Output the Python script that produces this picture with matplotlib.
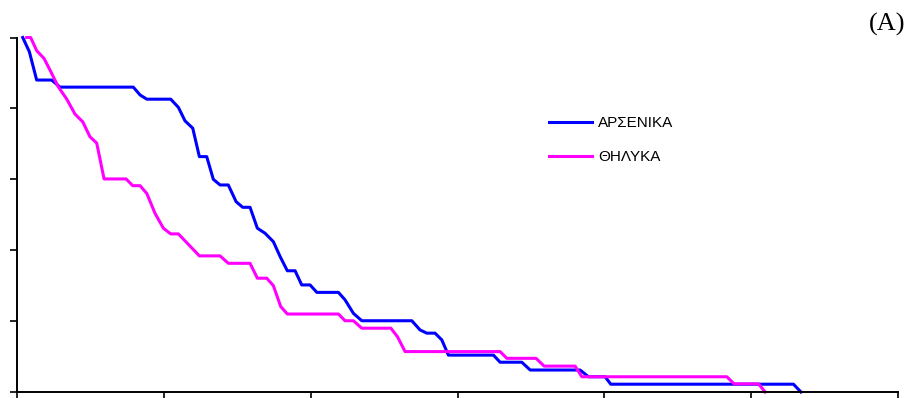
import matplotlib
matplotlib.use("Agg")
import matplotlib.pyplot as plt

# Survival-type curves (x in arbitrary time units, 0-60; y as proportion 0-1)
male_label = "ΑΡΣΕΝΙΚΑ"
female_label = "ΘΗΛΥΚΑ"

male_x = [0.39, 0.84, 1.34, 2.36, 2.93, 7.92, 8.38, 8.84, 10.47, 10.99, 11.44, 11.97,
          12.42, 12.92, 13.37, 13.83, 14.39, 14.92, 15.37, 15.87, 16.37, 16.89, 17.46,
          17.92, 18.41, 18.94, 19.39, 19.96, 20.42, 21.89, 22.34, 22.91, 23.48, 26.89,
          27.45, 27.91, 28.47, 28.93, 29.38, 32.45, 32.90, 34.38, 34.95, 38.35, 38.92,
          40.05, 40.44, 52.88, 53.39]
male_y = [1.000, 0.960, 0.880, 0.880, 0.860, 0.860, 0.838, 0.826, 0.826, 0.803, 0.765,
          0.744, 0.664, 0.664, 0.600, 0.584, 0.584, 0.537, 0.521, 0.521, 0.462, 0.448,
          0.424, 0.382, 0.342, 0.342, 0.302, 0.302, 0.281, 0.281, 0.260, 0.222, 0.201,
          0.201, 0.175, 0.166, 0.166, 0.147, 0.104, 0.104, 0.084, 0.084, 0.062, 0.062,
          0.043, 0.043, 0.022, 0.022, 0.0]

female_x = [0.66, 0.93, 1.34, 1.84, 2.25, 2.81, 3.39, 3.95, 4.48, 4.97, 5.43, 5.93, 7.43,
            7.88, 8.38, 8.84, 9.40, 9.97, 10.47, 10.99, 12.42, 13.83, 14.39, 15.87,
            16.37, 17.01, 17.46, 17.96, 18.41, 21.89, 22.34, 22.91, 23.48, 25.46, 25.91,
            26.43, 32.90, 33.36, 35.35, 35.90, 38.01, 38.47, 48.34, 48.84, 50.50, 50.95]
female_y = [1.000, 1.000, 0.963, 0.941, 0.908, 0.861, 0.826, 0.784, 0.762, 0.720, 0.702,
            0.601, 0.601, 0.582, 0.582, 0.560, 0.504, 0.462, 0.446, 0.446, 0.384, 0.384,
            0.363, 0.363, 0.321, 0.321, 0.300, 0.241, 0.220, 0.220, 0.201, 0.201, 0.180,
            0.180, 0.156, 0.114, 0.114, 0.095, 0.095, 0.073, 0.073, 0.043, 0.043, 0.023,
            0.023, 0.0]

x_ticks = [0, 10, 20, 30, 40, 50, 60]
y_ticks = [0.0, 0.2, 0.4, 0.6, 0.8, 1.0]

fig = plt.figure(figsize=(9.14, 3.98), dpi=100)
W, H = 914, 398
ax = fig.add_axes([17 / W, (H - 392) / H, (898 - 17) / W, (392 - 37.5) / H])

ax.plot(male_x, male_y, color="#0000FF", lw=2.2, label=male_label, clip_on=False,
        solid_joinstyle="round")
ax.plot(female_x, female_y, color="#FF00FF", lw=2.2, label=female_label, clip_on=False,
        solid_joinstyle="round")

ax.set_xlim(0, 60)
ax.set_ylim(0, 1)
ax.set_xticks(x_ticks)
ax.set_yticks(y_ticks)
ax.set_xticklabels([])
ax.set_yticklabels([])
ax.tick_params(direction="out", length=5, width=1.2, color="black")
for s in ["top", "right"]:
    ax.spines[s].set_visible(False)
for s in ["left", "bottom"]:
    ax.spines[s].set_linewidth(1.4)
    ax.spines[s].set_color("black")

leg = ax.legend(loc="upper left", bbox_to_anchor=(549 / W, (H - 116) / H),
                bbox_transform=fig.transFigure, frameon=False,
                prop={"family": "Liberation Sans", "size": 11},
                handlelength=2.8, handletextpad=0.4, labelspacing=1.33,
                borderpad=0, borderaxespad=0)

fig.text(905 / W, (H - 24) / H, "(A)", family="Liberation Serif", fontsize=19,
         ha="right", va="center")

fig.savefig("out.png", dpi=100)
